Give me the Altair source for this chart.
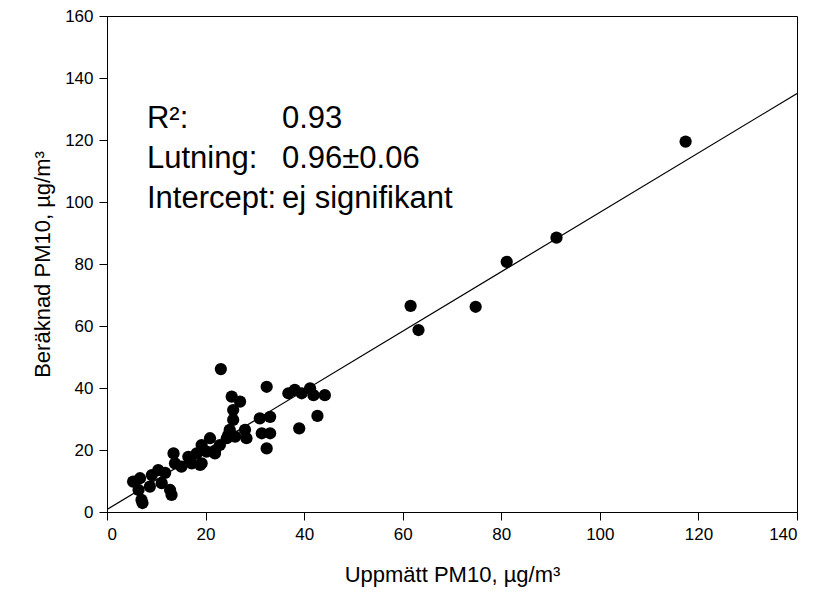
import altair as alt
import pandas as pd

# Measured (x) and calculated (y) PM10, µg/m3
measured = [117.4, 91.2, 81.1, 61.6, 63.2, 74.8,
            44.2, 42.7, 41.9, 41.2, 39.5, 38.1, 36.8, 39.0,
            33.1, 31.0, 31.4, 33.1, 32.4, 32.4,
            23.1, 25.3, 27.0, 25.6, 25.6, 24.9, 24.6, 26.0, 28.0, 28.3,
            24.3, 22.9, 21.9, 20.9, 20.2, 19.2, 18.2, 19.2, 17.2, 16.5, 15.1, 13.8,
            13.5, 13.1, 12.8, 11.1, 11.8, 10.4, 9.1, 7.0, 7.2, 6.4, 6.7, 5.3,
            21.9, 18.9, 16.8, 8.7]
calculated = [119.5, 88.5, 80.7, 66.5, 58.7, 66.2,
              37.7, 31.0, 37.7, 39.9, 38.3, 39.4, 38.3, 27.0,
              30.7, 30.2, 25.4, 25.4, 20.5, 40.4,
              46.1, 37.2, 35.6, 32.9, 29.7, 26.5, 24.8, 24.3, 26.5, 23.8,
              23.8, 21.6, 19.5, 23.8, 19.5, 21.6, 18.9, 15.7, 15.7, 17.8, 14.6, 15.7,
              18.9, 5.5, 7.1, 9.3, 12.6, 13.5, 11.9, 3.9, 2.9, 7.1, 10.9, 9.8,
              18.9, 15.2, 16.2, 8.2]

# Regression line end points
fit_x = [0, 140]
fit_y = [0.8, 135.0]

# Annotation text
ann_labels = ["R²:", "Lutning:", "Intercept:"]
ann_values = ["0.93", "0.96±0.06", "ej signifikant"]
ann_y = [123.9, 111.0, 98.1]
ann_label_x = 8.1
ann_value_x = 35.5

pts = pd.DataFrame({"x": measured, "y": calculated})
fit = pd.DataFrame({"x": fit_x, "y": fit_y})
ann_l = pd.DataFrame({"x": [ann_label_x] * 3, "y": ann_y, "t": ann_labels})
ann_v = pd.DataFrame({"x": [ann_value_x] * 3, "y": ann_y, "t": ann_values})

FONT = "Liberation Sans"

xscale = alt.Scale(domain=[0, 140], nice=False, zero=False)
yscale = alt.Scale(domain=[0, 160], nice=False, zero=False)

xaxis = alt.Axis(values=list(range(0, 141, 20)), title="Uppmätt PM10, µg/m³",
                 grid=False, tickSize=8, labelPadding=6, titlePadding=22,
                 labelFontSize=17, titleFontSize=22, labelFont=FONT, titleFont=FONT,
                 titleFontWeight="normal", labelColor="black", titleColor="black",
                 domainColor="black", tickColor="black")
yaxis = alt.Axis(values=list(range(0, 161, 20)), title="Beräknad PM10, µg/m³",
                 grid=False, tickSize=8, labelPadding=6, titlePadding=10,
                 labelFontSize=17, titleFontSize=22, labelFont=FONT, titleFont=FONT,
                 titleFontWeight="normal", labelColor="black", titleColor="black",
                 domainColor="black", tickColor="black")

points = alt.Chart(pts).mark_circle(size=150, color="black", opacity=1).encode(
    x=alt.X("x:Q", scale=xscale, axis=xaxis),
    y=alt.Y("y:Q", scale=yscale, axis=yaxis),
)

line = alt.Chart(fit).mark_line(color="black", strokeWidth=1.2, clip=True).encode(
    x=alt.X("x:Q", scale=xscale),
    y=alt.Y("y:Q", scale=yscale),
)

text_l = alt.Chart(ann_l).mark_text(align="left", baseline="alphabetic", fontSize=31,
                                    font=FONT, color="black").encode(
    x=alt.X("x:Q", scale=xscale), y=alt.Y("y:Q", scale=yscale), text="t:N")
text_v = alt.Chart(ann_v).mark_text(align="left", baseline="alphabetic", fontSize=31,
                                    font=FONT, color="black").encode(
    x=alt.X("x:Q", scale=xscale), y=alt.Y("y:Q", scale=yscale), text="t:N")

chart = alt.layer(line, points, text_l, text_v).properties(
    width=690, height=496,
    autosize=alt.AutoSizeParams(type="none"),
    padding={"left": 107, "top": 16, "right": 20, "bottom": 91},
    background="white",
).configure_view(stroke="black", strokeWidth=1)

chart.save("out.html", embed_options={"renderer": "svg", "actions": False})
